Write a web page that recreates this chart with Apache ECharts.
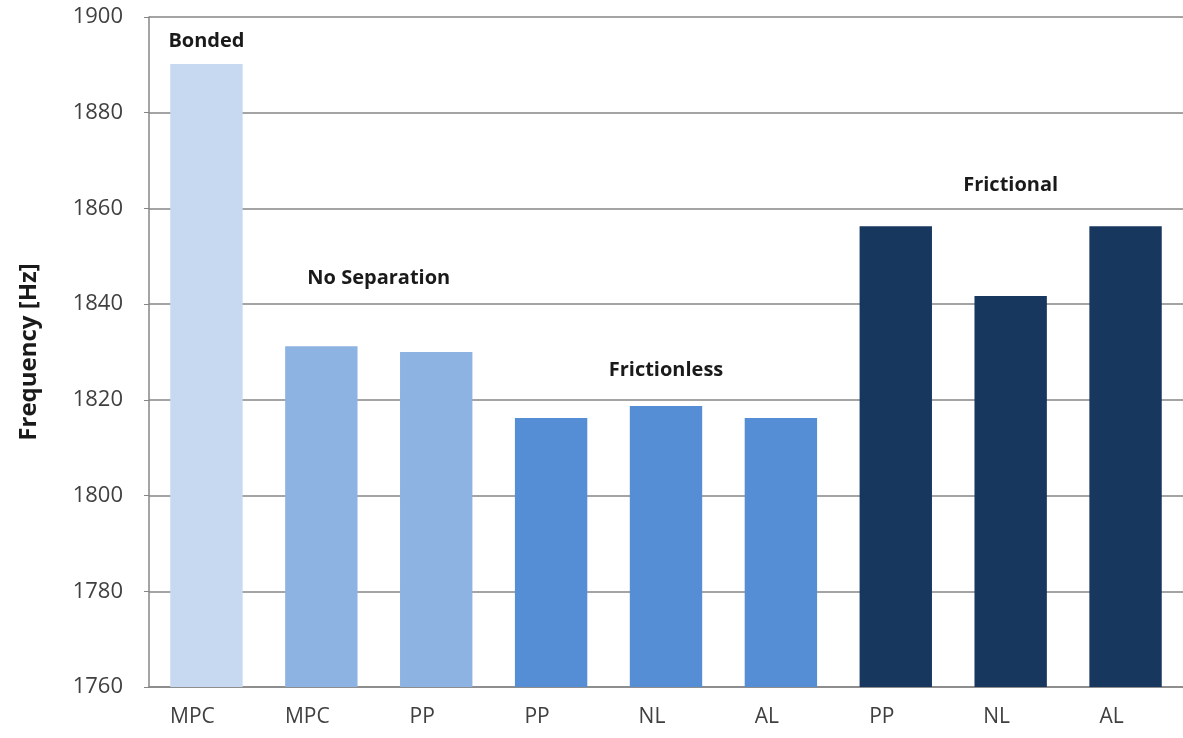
<!DOCTYPE html>
<html>
<head>
<meta charset="utf-8">
<script src="https://cdn.jsdelivr.net/npm/echarts@6/dist/echarts.min.js"></script>
<style>
  html, body { margin: 0; padding: 0; background: #ffffff; }
  #chart { width: 1183px; height: 738px; }
</style>
</head>
<body>
<div id="chart"></div>
<script>
// Contact formulation / connection type for each bar
const categories = ['MPC', 'MPC', 'PP', 'PP', 'NL', 'AL', 'PP', 'NL', 'AL'];
// Natural frequency for each configuration [Hz]
const frequencies = [1890.2, 1831.2, 1830.0, 1816.2, 1818.7, 1816.2, 1856.3, 1841.7, 1856.3];
// Contact type group of each bar (index into groupNames)
const groupOf = [0, 1, 1, 2, 2, 2, 3, 3, 3];
const groupNames = ['Bonded', 'No Separation', 'Frictionless', 'Frictional'];
const yTicks = [1760, 1780, 1800, 1820, 1840, 1860, 1880, 1900];

// Styling
const groupColors = ['#c6d9f1', '#8db3e2', '#558ed5', '#17375e'];
const FONT = '"Open Sans", "DejaVu Sans", sans-serif';
// Where each group caption sits: mean of category indices, value on the y scale
const captionAnchors = [
  { cats: [0], y: 1895.0 },
  { cats: [1, 2], y: 1845.4 },
  { cats: [4], y: 1826.1 },
  { cats: [7], y: 1864.8 }
];

const chart = echarts.init(document.getElementById('chart'), null, { renderer: 'canvas' });

const barData = frequencies.map((v, i) => ({
  value: v,
  itemStyle: { color: groupColors[groupOf[i]] }
}));

chart.setOption({
  animation: false,
  backgroundColor: '#ffffff',
  grid: { left: 149, right: 0, top: 17, bottom: 51, containLabel: false },
  xAxis: {
    type: 'category',
    data: categories,
    axisLine: { show: true, lineStyle: { color: '#868686', width: 1.5 } },
    axisTick: { show: false },
    axisLabel: {
      fontFamily: FONT, fontSize: 21, color: '#404040',
      margin: 20, padding: [0, 28, 0, 0]
    }
  },
  yAxis: {
    type: 'value',
    min: yTicks[0],
    max: yTicks[yTicks.length - 1],
    interval: yTicks[1] - yTicks[0],
    name: 'Frequency [Hz]',
    nameLocation: 'middle',
    nameRotate: 90,
    nameGap: 108,
    nameTextStyle: { fontFamily: FONT, fontSize: 24, fontWeight: 'bold', color: '#1a1a1a' },
    axisLine: { show: true, lineStyle: { color: '#868686', width: 1.5 } },
    axisTick: { show: true, inside: false, length: 5, lineStyle: { color: '#868686' } },
    axisLabel: {
      fontFamily: FONT, fontSize: 22, color: '#404040', margin: 26,
      formatter: v => String(v)
    },
    splitLine: { show: true, lineStyle: { color: '#868686', width: 1.5 } }
  },
  series: [{
    type: 'bar',
    data: barData,
    barCategoryGap: '37%'
  }]
});

// Group captions placed through the chart's own coordinate system
function drawCaptions() {
  const elements = captionAnchors.map((a, g) => {
    const xs = a.cats.map(c => chart.convertToPixel({ gridIndex: 0 }, [c, a.y])[0]);
    const px = xs.reduce((s, x) => s + x, 0) / xs.length;
    const py = chart.convertToPixel({ gridIndex: 0 }, [a.cats[0], a.y])[1];
    return {
      type: 'text',
      x: px,
      y: py,
      style: {
        text: groupNames[g],
        fontFamily: FONT,
        fontSize: 20,
        fontWeight: 'bold',
        fill: '#1a1a1a',
        align: 'center',
        verticalAlign: 'middle'
      }
    };
  });
  chart.setOption({ graphic: elements });
}
drawCaptions();
</script>
</body>
</html>
